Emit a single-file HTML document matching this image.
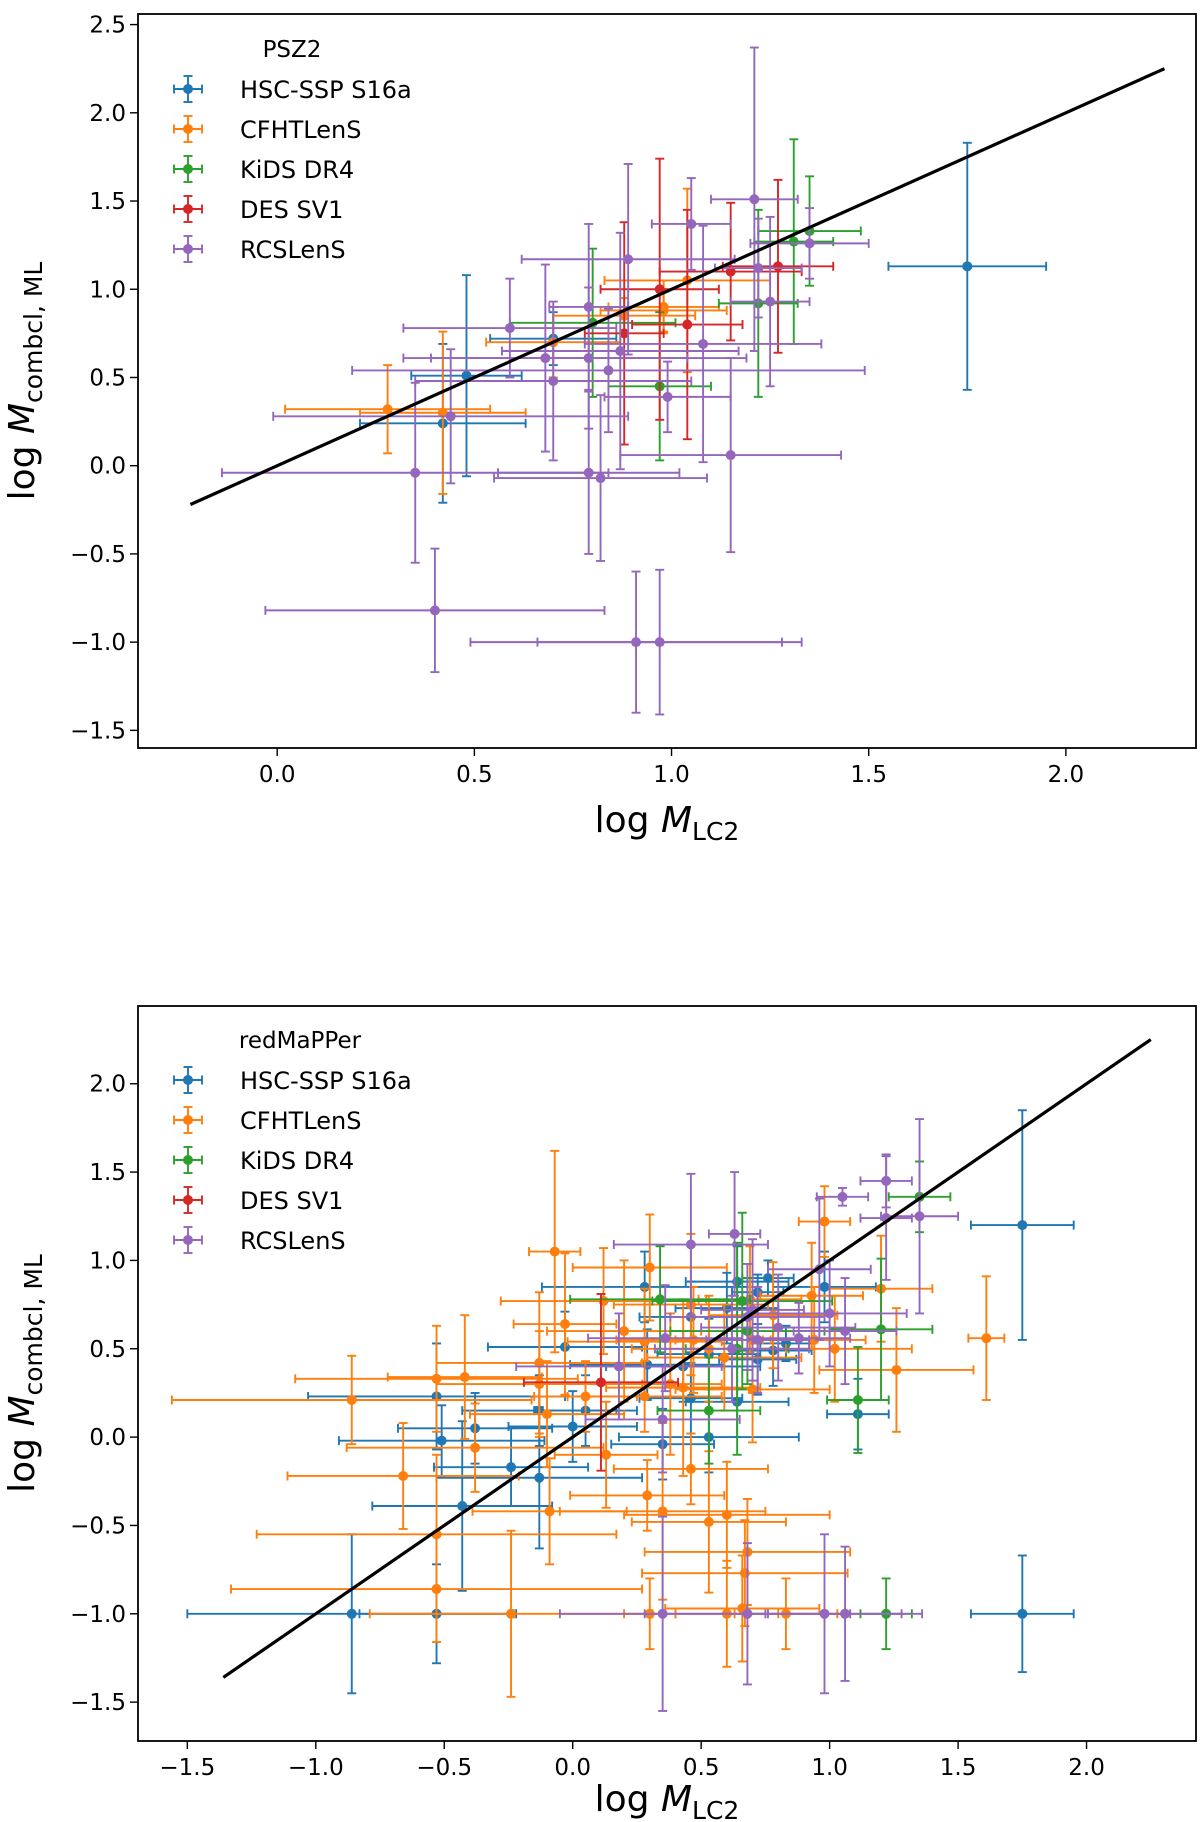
<!DOCTYPE html>
<html><head><meta charset="utf-8"><style>
html,body{margin:0;padding:0;background:#fff}
svg{display:block;font-family:"DejaVu Sans","Liberation Sans",sans-serif}
</style></head><body>
<svg id="fig" width="1200" height="1822" viewBox="0 0 1200 1822" xmlns="http://www.w3.org/2000/svg"></svg>
<script>
// ---- data: [x, y, xerr, yerr] ----
const seriesNames = ["HSC-SSP S16a","CFHTLenS","KiDS DR4","DES SV1","RCSLenS"];
const seriesColors = ["#1f77b4","#ff7f0e","#2ca02c","#d62728","#9467bd"];
const xTicksTop = [0.0,0.5,1.0,1.5,2.0];
const yTicksTop = [-1.5,-1.0,-0.5,0.0,0.5,1.0,1.5,2.0,2.5];
const xTicksBot = [-1.5,-1.0,-0.5,0.0,0.5,1.0,1.5,2.0];
const yTicksBot = [-1.5,-1.0,-0.5,0.0,0.5,1.0,1.5,2.0];

const pszHSC = [[1.75,1.13,0.2,0.7],[0.48,0.51,0.14,0.57],[0.42,0.24,0.21,0.45],[0.70,0.72,0.16,0.15]];
const pszCFHT = [[0.28,0.32,0.26,0.25],[0.42,0.30,0.21,0.46],[0.70,0.70,0.17,0.2],[0.88,0.85,0.18,0.1],[0.98,0.90,0.14,0.15],[1.04,1.05,0.21,0.52],[0.98,0.88,0.16,0.12]];
const pszKiDS = [[0.80,0.81,0.21,0.42],[0.97,0.45,0.13,0.42],[1.22,0.92,0.1,0.53],[1.31,1.27,0.1,0.58],[1.35,1.33,0.13,0.31]];
const pszDES = [[0.97,1.00,0.15,0.74],[0.88,0.75,0.1,0.63],[1.04,0.80,0.14,0.65],[1.15,1.10,0.18,0.39],[1.27,1.13,0.14,0.49]];
const pszRCS = [[1.21,1.51,0.11,0.86],[1.05,1.37,0.1,0.26],[0.89,1.17,0.27,0.54],[1.35,1.26,0.15,0.2],[1.22,1.12,0.11,0.28],[1.25,0.93,0.1,0.48],[0.79,0.90,0.1,0.47],[0.68,0.61,0.36,0.53],[0.59,0.78,0.27,0.28],[0.79,0.61,0.4,0.4],[0.70,0.48,0.35,0.45],[0.84,0.54,0.65,0.35],[0.87,0.65,0.3,0.67],[1.08,0.69,0.3,0.67],[0.44,0.28,0.45,0.38],[0.99,0.39,0.16,0.2],[1.15,0.06,0.28,0.55],[0.35,-0.04,0.49,0.51],[0.79,-0.04,0.23,0.46],[0.82,-0.07,0.27,0.47],[0.40,-0.82,0.43,0.35],[0.91,-1.0,0.42,0.4],[0.97,-1.0,0.31,0.41]];

const rmHSC = [[1.75,1.20,0.2,0.65],[1.75,-1.0,0.2,0.33],[-0.86,-1.0,0.64,0.45],[-0.53,-1.0,0.3,0.28],[-0.53,0.23,0.5,0.3],[-0.51,-0.02,0.4,0.2],[-0.43,-0.39,0.35,0.48],[-0.38,0.05,0.3,0.2],[-0.24,-0.17,0.3,0.22],[-0.13,-0.23,0.4,0.4],[-0.13,0.15,0.3,0.2],[-0.03,0.51,0.3,0.2],[0.0,0.06,0.25,0.2],[0.05,0.15,0.2,0.2],[0.28,0.85,0.4,0.2],[0.29,0.41,0.3,0.2],[0.35,-0.04,0.2,0.2],[0.43,0.40,0.3,0.2],[0.46,0.68,0.2,0.2],[0.46,0.22,0.2,0.2],[0.53,0.47,0.2,0.2],[0.53,0.0,0.35,0.2],[0.60,0.73,0.2,0.2],[0.64,0.88,0.2,0.2],[0.64,0.20,0.2,0.2],[0.72,0.82,0.1,0.1],[0.72,0.44,0.15,0.2],[0.78,0.49,0.15,0.2],[0.76,0.90,0.1,0.1],[0.98,0.85,0.2,0.2],[1.11,0.13,0.12,0.2],[0.83,0.53,0.1,0.1]];
const rmCFHT = [[-0.86,0.21,0.7,0.25],[-0.66,-0.22,0.45,0.3],[-0.53,0.33,0.55,0.3],[-0.42,0.34,0.3,0.35],[-0.53,-0.55,0.7,0.45],[-0.53,-0.86,0.8,0.3],[-0.38,-0.06,0.5,0.25],[-0.24,-1.0,0.55,0.47],[-0.13,0.42,0.4,0.4],[-0.13,0.30,0.4,0.3],[-0.09,-0.42,0.3,0.3],[-0.07,1.05,0.1,0.57],[-0.03,0.64,0.2,0.4],[-0.1,0.13,0.3,0.3],[0.12,0.77,0.4,0.3],[0.13,-0.1,0.2,0.3],[0.28,0.54,0.3,0.3],[0.28,0.23,0.3,0.2],[0.29,-0.33,0.3,0.2],[0.30,0.96,0.3,0.3],[0.35,-0.42,0.4,0.5],[0.30,-1.0,0.1,0.2],[0.43,0.28,0.3,0.5],[0.46,0.75,0.3,0.4],[0.46,-0.18,0.3,0.2],[0.53,0.50,0.3,0.3],[0.53,-0.48,0.3,0.4],[0.60,-0.44,0.4,0.3],[0.60,-1.0,0.2,0.3],[0.59,0.45,0.3,0.3],[0.68,-0.65,0.4,0.3],[0.67,-0.77,0.4,0.3],[0.66,-0.97,0.3,0.3],[0.69,0.78,0.2,0.3],[0.70,0.55,0.3,0.3],[0.70,0.27,0.3,0.3],[0.83,-1.0,0.2,0.2],[0.78,0.69,0.25,0.3],[0.93,0.80,0.2,0.3],[0.98,1.22,0.1,0.2],[0.94,0.55,0.2,0.3],[1.02,0.50,0.3,0.3],[1.20,0.84,0.2,0.3],[1.26,0.38,0.3,0.35],[1.61,0.56,0.07,0.35],[0.47,0.55,0.3,0.3],[0.20,0.60,0.3,0.4],[0.05,0.23,0.2,0.2],[0.38,0.30,0.2,0.4]];
const rmKiDS = [[0.34,0.78,0.35,0.3],[0.53,0.15,0.2,0.3],[0.66,0.77,0.35,0.5],[0.64,0.50,0.2,0.6],[1.11,0.21,0.12,0.3],[1.20,0.61,0.2,0.4],[1.35,1.36,0.12,0.2],[1.22,-1.0,0.1,0.2],[0.68,0.60,0.3,0.3]];
const rmDES = [[0.11,0.31,0.3,0.5]];
const rmRCS = [[1.22,1.45,0.1,0.15],[1.05,1.36,0.1,0.05],[1.35,1.25,0.15,0.55],[1.22,1.24,0.1,0.35],[0.63,1.15,0.1,0.35],[0.46,1.09,0.3,0.4],[0.96,0.95,0.2,0.4],[0.70,0.72,0.2,0.4],[1.00,0.70,0.3,0.3],[0.80,0.62,0.3,0.3],[0.72,0.55,0.2,0.3],[0.36,0.56,0.3,0.3],[0.18,0.40,0.4,0.3],[0.35,0.10,0.3,0.3],[0.35,-1.0,0.4,0.55],[0.68,-1.0,0.4,0.4],[0.98,-1.0,0.3,0.45],[1.06,-1.0,0.3,0.38],[0.88,0.56,0.2,0.2],[0.68,0.68,0.3,0.3],[0.62,0.50,0.3,0.3],[1.06,0.60,0.2,0.3]];

const NS="http://www.w3.org/2000/svg";
const fig=document.getElementById('fig');
function mk(tag,attrs,parent){const e=document.createElementNS(NS,tag);for(const k in attrs)e.setAttribute(k,attrs[k]);(parent||fig).appendChild(e);return e;}

function panel(cfg){
  const g=mk('g',{});
  
  
  const L=138,R=1196,T=cfg.top,B=cfg.bottom;
  const sx=v=>L+(v-cfg.xmin)/(cfg.xmax-cfg.xmin)*(R-L);
  const sy=v=>B-(v-cfg.ymin)/(cfg.ymax-cfg.ymin)*(B-T);
  const clip='clip'+cfg.name;
  const cp=mk('clipPath',{id:clip},g);mk('rect',{x:L,y:T,width:R-L,height:B-T},cp);
  const data=mk('g',{'clip-path':'url(#'+clip+')'},g);
  cfg.series.forEach((pts,i)=>{
    const col=seriesColors[i];
    pts.forEach(p=>{
      const x=sx(p[0]),y=sy(p[1]),x0=sx(p[0]-p[2]),x1=sx(p[0]+p[2]),y0=sy(p[1]-p[3]),y1=sy(p[1]+p[3]);
      const eg=mk('g',{stroke:col,'stroke-width':1.9,fill:col},data);
      
      
      mk('line',{x1:x0,y1:y,x2:x1,y2:y},eg);
      mk('line',{x1:x,y1:y0,x2:x,y2:y1},eg);
      mk('line',{x1:x0,y1:y-4.5,x2:x0,y2:y+4.5},eg);
      mk('line',{x1:x1,y1:y-4.5,x2:x1,y2:y+4.5},eg);
      mk('line',{x1:x-4.5,y1:y0,x2:x+4.5,y2:y0},eg);
      mk('line',{x1:x-4.5,y1:y1,x2:x+4.5,y2:y1},eg);
      mk('circle',{cx:x,cy:y,r:5,stroke:'none'},eg);
    });
  });
  const ln=mk('line',{x1:sx(cfg.lineFrom),y1:sy(cfg.lineFrom),x2:sx(2.25),y2:sy(2.25),stroke:'#000','stroke-width':3.2},g);
  
  
  const box=mk('rect',{x:L,y:T,width:R-L,height:B-T,fill:'none',stroke:'#000','stroke-width':1.8},g);
  
  
  cfg.xt.forEach(v=>{
    const x=sx(v);mk('line',{x1:x,y1:B,x2:x,y2:B+8,stroke:'#000','stroke-width':1.4},g);
    const t=mk('text',{x:x,y:B+34,'font-size':23,'text-anchor':'middle'},g);
    t.textContent=(v<0?'\u2212':'')+Math.abs(v).toFixed(1);
    
    
  });
  cfg.yt.forEach(v=>{
    const y=sy(v);mk('line',{x1:L-8,y1:y,x2:L,y2:y,stroke:'#000','stroke-width':1.4},g);
    const t=mk('text',{x:L-12,y:y+8,'font-size':23,'text-anchor':'end'},g);
    t.textContent=(v<0?'\u2212':'')+Math.abs(v).toFixed(1);
    
    
  });
  const xl=mk('text',{x:(L+R)/2,y:cfg.xlabelY,'font-size':36,'text-anchor':'middle'},g);
  xl.innerHTML='log <tspan font-style="italic">M</tspan><tspan font-size="25" dy="8">LC2</tspan>';
  
  
  const cy=(T+B)/2;
  const yl=mk('text',{x:0,y:0,'font-size':36,'text-anchor':'middle',transform:`translate(34,${cy}) rotate(-90)`},g);
  yl.innerHTML='log <tspan font-style="italic">M</tspan><tspan font-size="25" dy="8">combcl, ML</tspan>';
  
  
  const lg=mk('g',{},g);
  
  
  const tt=mk('text',{x:cfg.legTitleX,y:cfg.legY+8,'font-size':23,'text-anchor':'middle'},lg);
  tt.textContent=cfg.title;
  
  
  seriesNames.forEach((n,i)=>{
    const y=cfg.legY+40+i*40,x=188,c=seriesColors[i];
    const eg=mk('g',{stroke:c,'stroke-width':1.9,fill:c},lg);
    
    
    mk('line',{x1:x-14,y1:y,x2:x+14,y2:y},eg);
    mk('line',{x1:x,y1:y-13,x2:x,y2:y+13},eg);
    mk('line',{x1:x-14,y1:y-4.5,x2:x-14,y2:y+4.5},eg);mk('line',{x1:x+14,y1:y-4.5,x2:x+14,y2:y+4.5},eg);
    mk('line',{x1:x-4.5,y1:y-13,x2:x+4.5,y2:y-13},eg);mk('line',{x1:x-4.5,y1:y+13,x2:x+4.5,y2:y+13},eg);
    mk('circle',{cx:x,cy:y,r:5,stroke:'none'},eg);
    const t=mk('text',{x:240,y:y+9,'font-size':24,fill:'#000'},lg);
    t.textContent=n;
  });
}
panel({name:'psz2-panel',top:14,bottom:748,xmin:-0.353,xmax:2.33,ymin:-1.60,ymax:2.56,xt:xTicksTop,yt:yTicksTop,
  series:[pszHSC,pszCFHT,pszKiDS,pszDES,pszRCS],lineFrom:-0.22,xlabelY:832,title:'PSZ2',legTitleX:292,legY:49});
panel({name:'redmapper-panel',top:1006,bottom:1741,xmin:-1.692,xmax:2.426,ymin:-1.72,ymax:2.44,xt:xTicksBot,yt:yTicksBot,
  series:[rmHSC,rmCFHT,rmKiDS,rmDES,rmRCS],lineFrom:-1.36,xlabelY:1811,title:'redMaPPer',legTitleX:300,legY:1040});
</script>
</body></html>
